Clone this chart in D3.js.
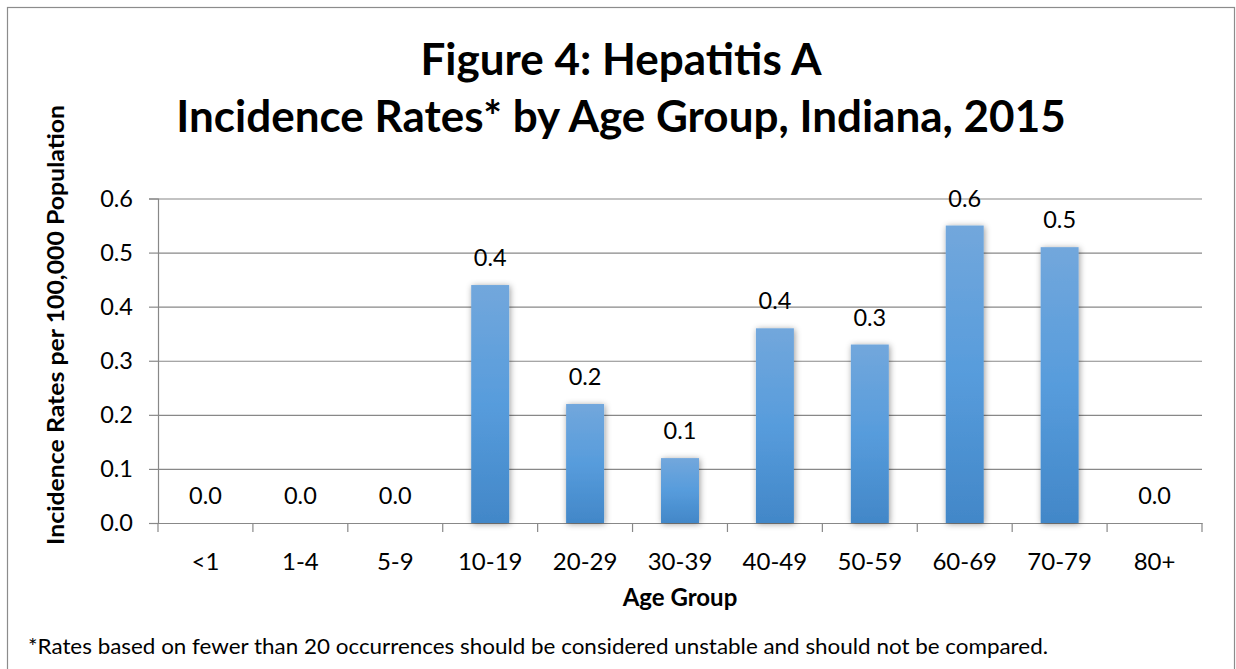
<!DOCTYPE html>
<html>
<head>
<meta charset="utf-8">
<script src="https://cdn.jsdelivr.net/npm/d3@7"></script>
<style>
  html, body { margin: 0; padding: 0; background: #fff; }
  text { font-family: Lato, "Open Sans", sans-serif; fill: #000; }
</style>
</head>
<body>
<div id="chart"></div>
<script>
// chart data
const ageGroups = ['<1', '1-4', '5-9', '10-19', '20-29', '30-39', '40-49', '50-59', '60-69', '70-79', '80+'];
const rates = [0, 0, 0, 0.44, 0.22, 0.12, 0.36, 0.33, 0.55, 0.51, 0];
const yTicks = [0, 0.1, 0.2, 0.3, 0.4, 0.5, 0.6];

const titleLines = ['Figure 4: Hepatitis A', 'Incidence Rates* by Age Group, Indiana, 2015'];
const yTitle = 'Incidence Rates per 100,000 Population';
const xTitle = 'Age Group';
const footnote = '*Rates based on fewer than 20 occurrences should be considered unstable and should not be compared.';

const W = 1236, H = 669;
const margin = { top: 198.5, right: 34, bottom: 146, left: 158 };

const svg = d3.select('#chart').append('svg')
  .attr('width', W)
  .attr('height', H);

const defs = svg.append('defs');
const grad = defs.append('linearGradient')
  .attr('id', 'barGrad')
  .attr('x1', 0).attr('y1', 0).attr('x2', 0).attr('y2', 1);
grad.append('stop').attr('offset', '0%').attr('stop-color', '#72a7dc');
grad.append('stop').attr('offset', '50%').attr('stop-color', '#579cdc');
grad.append('stop').attr('offset', '100%').attr('stop-color', '#4287c8');

const shadow = defs.append('filter')
  .attr('id', 'shadow')
  .attr('x', '-30%').attr('y', '-10%').attr('width', '160%').attr('height', '120%');
shadow.append('feDropShadow')
  .attr('dx', 1).attr('dy', 1)
  .attr('stdDeviation', 3)
  .attr('flood-color', '#000')
  .attr('flood-opacity', 0.4);

// outer frame
svg.append('rect')
  .attr('x', 7.5).attr('y', 7.5)
  .attr('width', 1227).attr('height', 680)
  .attr('fill', 'none')
  .attr('stroke', '#8c8c8c')
  .attr('stroke-width', 1.2);

const x = d3.scaleBand()
  .domain(ageGroups)
  .range([margin.left, W - margin.right])
  .paddingInner(0.6)
  .paddingOuter(0.3);

const y = d3.scaleLinear()
  .domain([0, 0.6])
  .range([H - margin.bottom, margin.top]);

const gridColor = '#888888';

// gridlines + y axis
const yAxis = svg.append('g')
  .attr('transform', `translate(${margin.left},0)`)
  .call(d3.axisLeft(y).tickValues(yTicks).tickFormat(d3.format('.1f')).tickSize(9).tickPadding(16));
yAxis.select('.domain').attr('stroke', gridColor).attr('stroke-width', 1.2);
yAxis.selectAll('.tick line').attr('stroke', gridColor).attr('stroke-width', 1.2);
yAxis.selectAll('.tick text')
  .style('font-size', '23.5px')
  .attr('fill', '#000');
yAxis.selectAll('.tick').append('line')
  .attr('x1', 0).attr('x2', W - margin.right - margin.left)
  .attr('stroke', gridColor).attr('stroke-width', 1.2);

// x axis
const xAxis = svg.append('g')
  .attr('transform', `translate(0,${y(0)})`)
  .call(d3.axisBottom(x).tickSize(0).tickPadding(30));
xAxis.select('.domain').attr('stroke', gridColor).attr('stroke-width', 1.2);
xAxis.selectAll('.tick text')
  .style('font-size', '24px')
  .attr('fill', '#000');

// category boundary ticks
const bounds = d3.range(ageGroups.length + 1).map(i => margin.left + i * x.step());
xAxis.selectAll('.bound').data(bounds).enter().append('line')
  .attr('class', 'bound')
  .attr('x1', d => d).attr('x2', d => d)
  .attr('y1', 0).attr('y2', 9)
  .attr('stroke', gridColor).attr('stroke-width', 1.2);

// bars
svg.append('g').selectAll('rect')
  .data(rates.map((v, i) => ({ k: ageGroups[i], v })))
  .enter().filter(d => d.v > 0).append('rect')
  .attr('x', d => x(d.k))
  .attr('y', d => y(d.v))
  .attr('width', x.bandwidth())
  .attr('height', d => y(0) - y(d.v))
  .attr('fill', 'url(#barGrad)')
  .attr('filter', 'url(#shadow)');

// data labels
svg.append('g').selectAll('text')
  .data(rates.map((v, i) => ({ k: ageGroups[i], v })))
  .enter().append('text')
  .attr('x', d => x(d.k) + x.bandwidth() / 2)
  .attr('y', d => y(d.v) - 19)
  .attr('text-anchor', 'middle')
  .style('font-size', '23.5px')
  .text(d => d3.format('.1f')(d.v));

// title
svg.append('g').selectAll('text')
  .data(titleLines)
  .enter().append('text')
  .attr('x', 621)
  .attr('y', (d, i) => 75 + i * 57)
  .attr('text-anchor', 'middle')
  .style('font-size', '44px')
  .style('font-weight', 'bold')
  .text(d => d);

// axis titles
svg.append('text')
  .attr('transform', 'translate(64,325) rotate(-90)')
  .attr('text-anchor', 'middle')
  .attr('textLength', 440)
  .attr('lengthAdjust', 'spacingAndGlyphs')
  .style('font-size', '23px')
  .style('font-weight', 'bold')
  .text(yTitle);

svg.append('text')
  .attr('x', (margin.left + W - margin.right) / 2)
  .attr('y', 606)
  .attr('text-anchor', 'middle')
  .style('font-size', '24px')
  .style('font-weight', 'bold')
  .text(xTitle);

svg.append('text')
  .attr('x', 28)
  .attr('y', 654)
  .attr('textLength', 1020)
  .attr('lengthAdjust', 'spacingAndGlyphs')
  .style('font-size', '22px')
  .text(footnote);
</script>
</body>
</html>
